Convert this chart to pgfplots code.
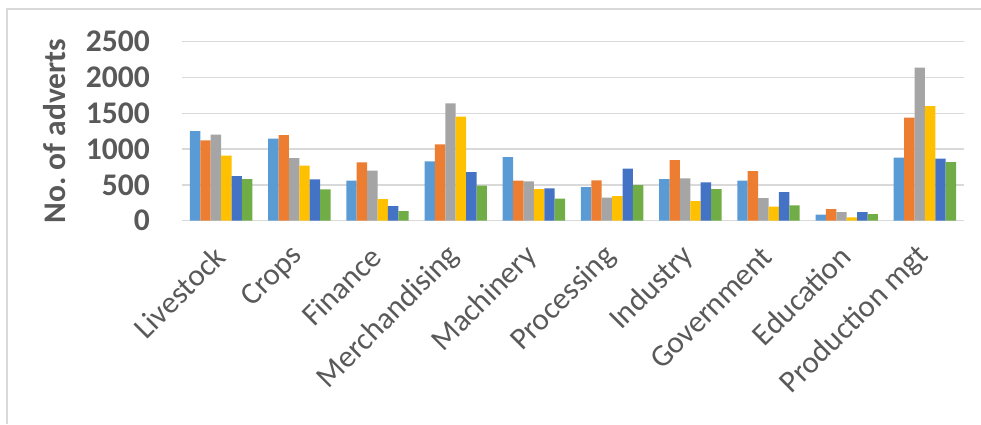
\documentclass[border=0pt]{standalone}
\usepackage{fontspec}
\setmainfont{Carlito}
\usepackage{pgfplots}
\pgfplotsset{compat=1.18}
\definecolor{s1}{HTML}{5B9BD5}
\definecolor{s2}{HTML}{ED7D31}
\definecolor{s3}{HTML}{A5A5A5}
\definecolor{s4}{HTML}{FFC000}
\definecolor{s5}{HTML}{4472C4}
\definecolor{s6}{HTML}{70AD47}
\definecolor{txt}{HTML}{595959}
\definecolor{grd}{HTML}{D9D9D9}
\begin{document}
\begin{tikzpicture}[x=1pt,y=1pt]
\useasboundingbox (0,0) rectangle (981,424);
\draw[grd, line width=1.3pt] (7,0) -- (7,415) -- (981,415);
\begin{axis}[
  at={(182pt,203.3pt)}, anchor=south west,
  scale only axis, width=782pt, height=179pt,
  ybar=0pt, bar width=10.4pt,
  xmin=-0.5, xmax=9.5, ymin=0, ymax=2500,
  xtick={0,...,9},
  xticklabels={Livestock,Crops,Finance,Merchandising,Machinery,Processing,Industry,Government,Education,Production mgt},
  ytick={0,500,...,2500},
  /pgf/number format/assume math mode=true,
  /pgf/number format/1000 sep={},
  ymajorgrids, major grid style={grd, line width=1.3pt},
  axis line style={draw=none},
  major tick length=0pt,
  xticklabel style={font=\fontsize{31}{36}\selectfont, text=txt, rotate=45, anchor=east, inner sep=0pt, yshift=-21pt, xshift=-22.6pt},
  yticklabel style={font=\fontsize{31.5}{36}\selectfont\bfseries, text=txt, anchor=east, inner sep=0pt, xshift=-32pt},
  ylabel={No.\ of adverts},
  ylabel style={font=\fontsize{31.5}{36}\selectfont\bfseries, text=txt, at={(axis description cs:-0.1624,0.5)}, anchor=center, rotate=0},
  clip=false,
]
\addplot[fill=s1, draw=none] coordinates {(0,1252) (1,1145) (2,559) (3,829) (4,889) (5,470) (6,582) (7,559) (8,84) (9,880)};
\addplot[fill=s2, draw=none] coordinates {(0,1122) (1,1196) (2,815) (3,1066) (4,559) (5,563) (6,847) (7,694) (8,163) (9,1439)};
\addplot[fill=s3, draw=none] coordinates {(0,1201) (1,875) (2,698) (3,1639) (4,549) (5,321) (6,591) (7,317) (8,121) (9,2137)};
\addplot[fill=s4, draw=none] coordinates {(0,908) (1,768) (2,303) (3,1453) (4,442) (5,345) (6,275) (7,196) (8,47) (9,1601)};
\addplot[fill=s5, draw=none] coordinates {(0,624) (1,577) (2,205) (3,680) (4,452) (5,726) (6,535) (7,400) (8,121) (9,866)};
\addplot[fill=s6, draw=none] coordinates {(0,582) (1,438) (2,135) (3,489) (4,307) (5,498) (6,442) (7,214) (8,93) (9,819)};
\end{axis}
\end{tikzpicture}
\end{document}
